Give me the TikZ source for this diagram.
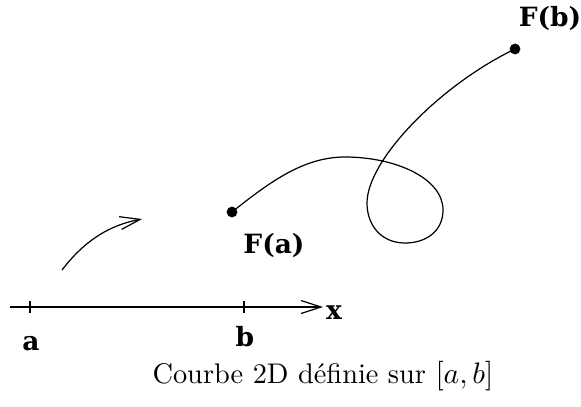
\documentclass[tikz,border=0pt]{standalone}
\usepackage{fontspec}
\newfontfamily\lblfont{DejaVu Serif}
\usetikzlibrary{arrows.meta}
\begin{document}
\begin{tikzpicture}[x=0.37pt,y=-0.37pt,
  thinline/.style={line width=0.45pt},
  barb/.style={-{Straight Barb[length=7.4pt,width=4.8pt,line width=0.45pt]}},
  lbl/.style={font=\lblfont\bfseries\fontsize{9.8}{11}\selectfont, inner sep=0pt},
  dot/.style={circle,fill=black,inner sep=0pt,minimum size=4pt}]
\useasboundingbox (0,0) rectangle (581,406);
% curve points
\node[dot] (Fa) at (232,212) {};
\node[dot] (Fb) at (515,49) {};
\coordinate (top) at (345,157);
\coordinate (right) at (443,210);
\coordinate (bot) at (405,243);
\coordinate (left) at (367,203);
\draw[thinline] (Fa.center) .. controls (272,180) and (305,157) .. (top)
  .. controls (395,157) and (443,178) .. (right)
  .. controls (443,232) and (425,243) .. (bot)
  .. controls (382,243) and (367,226) .. (left)
  .. controls (367,160) and (440,85) .. (Fb.center);
\node[lbl] (la) at (274,245) {F(a)};
\node[lbl] (lb) at (550,18) {F(b)};
% small arrow
\coordinate (s1) at (62,270);
\coordinate (s2) at (142,219);
\draw[thinline,barb] (s1) .. controls (85,240) and (110,225) .. (s2);
% axis
\coordinate (x0) at (10,307);
\coordinate (x1) at (323,307);
\draw[thinline,barb] (x0) -- (x1);
\coordinate (ta) at (30,307);
\coordinate (tb) at (244,307);
\draw[thinline] ([yshift=2.2pt]ta) -- ([yshift=-2.2pt]ta);
\draw[thinline] ([yshift=2.2pt]tb) -- ([yshift=-2.2pt]tb);
\node[lbl] (lx) at (334,313) {x};
\node[lbl] (laa) at (31,344) {a};
\node[lbl] (lbb) at (245,337) {b};
\node[inner sep=0pt,font=\fontsize{10.5}{12}\selectfont] (cap) at (323,376) {Courbe 2D définie sur $[a,b]$};
\end{tikzpicture}
\end{document}
